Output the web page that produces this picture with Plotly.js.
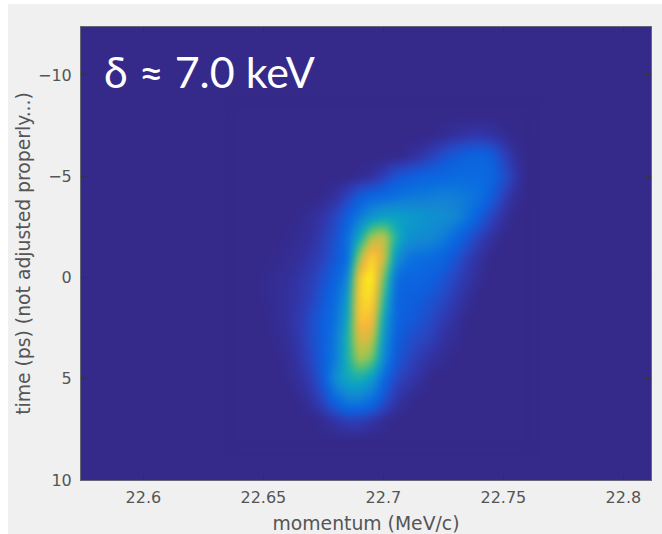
<!DOCTYPE html>
<html><head><meta charset="utf-8">
<script src="https://cdn.plot.ly/plotly-3.0.1.min.js"></script>
<style>html,body{margin:0;padding:0;background:#fff;overflow:hidden}#c{position:absolute;left:8px;top:4px;width:654px;height:530px}#c image{filter:blur(3px)}</style>
</head><body><div id="c"></div>
<script>
const momentum = [22.64,22.645,22.65,22.655,22.66,22.665,22.67,22.675,22.68,22.685,22.69,22.695,22.7,22.705,22.71,22.715,22.72,22.725,22.73,22.735,22.74,22.745,22.75,22.755,22.76];
const time = [-8,-7,-6,-5,-4,-3,-2,-1,0,1,2,3,4,5,6,7,8];
const density = [
 [0,0,0,0,0,0,0,0,0,0,0,0,0,0,0,0,0,0,0,0,0,0,0,0,0],
 [0,0,0,0,0,0,0,0,0,0,0,0,0,0,0,0,0,.01,.02,.03,.035,.025,.01,0,0],
 [0,0,0,0,0,0,0,0,0,0,0,0,0,0,.01,.03,.06,.09,.12,.14,.15,.13,.06,.015,0],
 [0,0,0,0,0,0,0,0,0,0,.005,.02,.05,.10,.12,.14,.15,.16,.17,.17,.17,.15,.09,.03,0],
 [0,0,0,0,0,0,0,.005,.02,.06,.12,.15,.17,.19,.21,.22,.23,.24,.23,.21,.19,.12,.05,.01,0],
 [0,0,0,0,0,.005,.015,.03,.07,.13,.22,.31,.36,.36,.34,.32,.30,.29,.26,.20,.12,.06,.02,0,0],
 [0,0,0,0,.005,.01,.02,.05,.09,.18,.40,.68,.72,.44,.30,.28,.26,.22,.16,.10,.05,.02,0,0,0],
 [0,0,0,.005,.01,.015,.035,.06,.11,.17,.66,.95,.74,.30,.20,.18,.17,.14,.10,.05,.02,0,0,0,0],
 [0,0,.005,.01,.015,.03,.05,.09,.14,.25,.90,1,.58,.18,.15,.15,.13,.10,.06,.03,.01,0,0,0,0],
 [0,0,.005,.01,.02,.035,.06,.11,.17,.33,.92,.95,.47,.15,.13,.12,.10,.07,.04,.015,0,0,0,0,0],
 [0,0,0,.01,.02,.04,.08,.13,.19,.38,.90,.86,.36,.15,.12,.10,.07,.04,.02,0,0,0,0,0,0],
 [0,0,0,.005,.015,.04,.08,.13,.22,.44,.78,.72,.31,.13,.09,.07,.05,.02,.01,0,0,0,0,0,0],
 [0,0,0,0,.01,.03,.07,.13,.23,.44,.66,.58,.26,.11,.07,.04,.02,.01,0,0,0,0,0,0,0],
 [0,0,0,0,.005,.02,.05,.12,.29,.40,.42,.33,.16,.07,.04,.02,0,0,0,0,0,0,0,0,0],
 [0,0,0,0,0,.005,.025,.07,.16,.23,.23,.18,.09,.03,.01,0,0,0,0,0,0,0,0,0,0],
 [0,0,0,0,0,0,0,.01,.03,.05,.05,.03,.01,0,0,0,0,0,0,0,0,0,0,0,0],
 [0,0,0,0,0,0,0,0,0,0,0,0,0,0,0,0,0,0,0,0,0,0,0,0,0]
];
const parula = [[0,'#35298a'],[.03,'#3235a8'],[.07,'#2848c4'],[.12,'#0f5ddc'],[.18,'#0a6ee0'],[.25,'#1484d4'],[.35,'#0a9fc8'],[.45,'#1fb4a6'],[.55,'#5cc070'],[.65,'#a3c650'],[.75,'#d8bb40'],[.85,'#fcb53a'],[.93,'#f8d82a'],[1,'#f9fb15']];
const xTicks = [22.6,22.65,22.7,22.75,22.8];
const xTickLabels = ['22.6','22.65','22.7','22.75','22.8'];
const yTicks = [-10,-5,0,5,10];
const tickFont = {family:'"DejaVu Sans",sans-serif',size:16,color:'#555'};
const titleFont = {family:'"DejaVu Sans",sans-serif',size:18.8,color:'#555'};
Plotly.newPlot('c',[{
  type:'heatmap',x:momentum,y:time,z:density,zmin:0,zmax:1,zsmooth:'best',
  colorscale:parula,showscale:false,hoverinfo:'skip'
}],{
  width:654,height:530,
  margin:{l:73,r:11,t:23,b:54,pad:0},
  paper_bgcolor:'#f0f0f0',plot_bgcolor:'#35298a',
  xaxis:{range:[22.574,22.8115],tickvals:xTicks,ticktext:xTickLabels,ticks:'inside',ticklen:5,tickcolor:'#333',tickwidth:1,
    mirror:'ticks',showline:true,linecolor:'#667',linewidth:1,showgrid:false,zeroline:false,tickfont:tickFont,ticklabelstandoff:3,
    title:{text:'momentum (MeV/c)',font:titleFont,standoff:10}},
  yaxis:{range:[10,-12.37],tickvals:yTicks,ticks:'inside',ticklen:5,tickcolor:'#333',tickwidth:1,
    mirror:'ticks',showline:true,linecolor:'#667',linewidth:1,showgrid:false,zeroline:false,tickfont:tickFont,ticklabelstandoff:5,
    title:{text:'time (ps) (not adjusted properly...)',font:titleFont,standoff:2}},
  annotations:[{text:'δ ≈ 7.0 keV',xref:'paper',yref:'paper',x:0.037,y:0.963,xanchor:'left',yanchor:'top',showarrow:false,
    font:{family:'Lato,sans-serif',size:43,color:'#fff'}}]
},{staticPlot:true,displayModeBar:false});
</script></body></html>
